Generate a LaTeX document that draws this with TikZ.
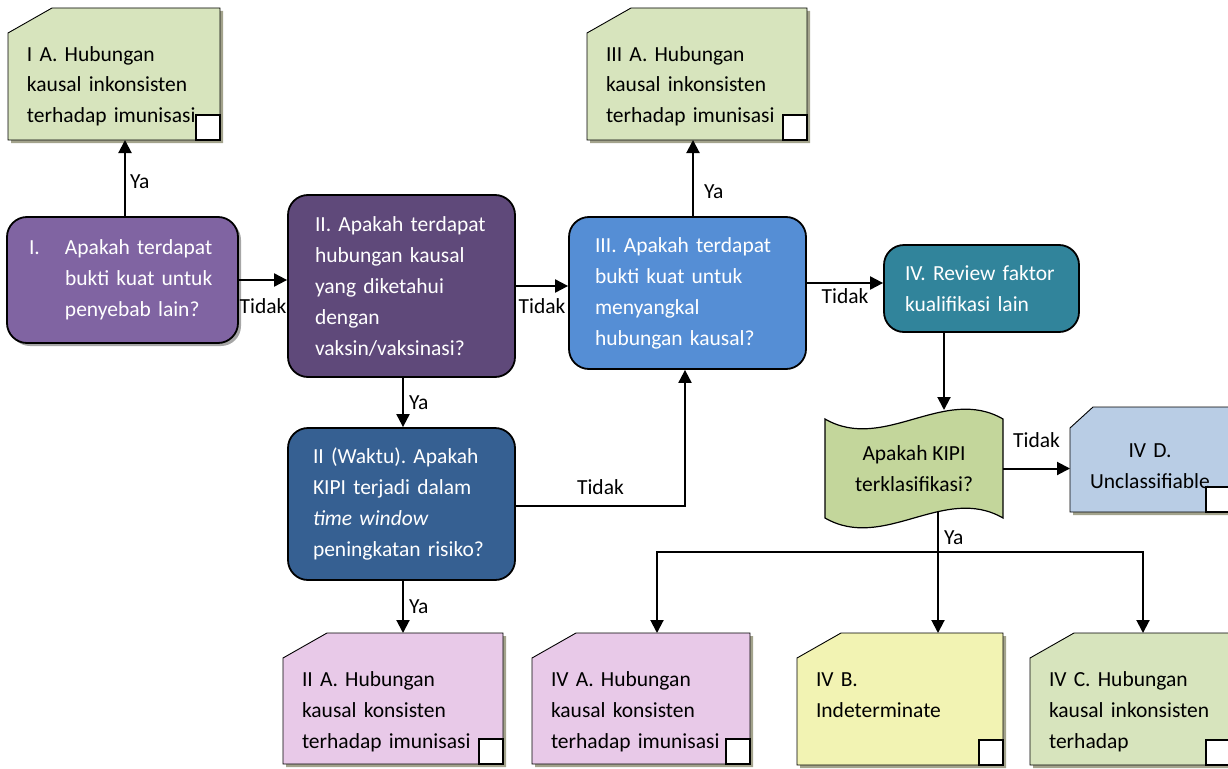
\documentclass[tikz,border=0pt]{standalone}
\usepackage{fontspec}
\setmainfont{Carlito}
\frenchspacing
\usetikzlibrary{arrows.meta,shadows}

\definecolor{cardgreen}{HTML}{D7E4BD}
\definecolor{cardpink}{HTML}{E8C9E8}
\definecolor{cardyellow}{HTML}{F2F3B3}
\definecolor{cardblue}{HTML}{B9CDE5}
\definecolor{cardshade}{HTML}{A3A38C}
\definecolor{qpurple}{HTML}{8064A2}
\definecolor{qplum}{HTML}{5F497A}
\definecolor{qnavy}{HTML}{366092}
\definecolor{qblue}{HTML}{558ED5}
\definecolor{qteal}{HTML}{31849B}
\definecolor{tapegreen}{HTML}{C3D69B}

\begin{document}
\begin{tikzpicture}[x=1pt, y=-1pt,
    txt/.style={font=\fontsize{21.5}{31}\selectfont},
    question/.style={txt, draw=black, line width=1.8pt, rounded corners=20pt, text=white, align=left, inner ysep=0pt},
    cardline/.style={draw=black, line width=0.9pt},
    cardtext/.style={txt, align=left, inner xsep=19pt, inner ysep=0pt, outer sep=0pt, anchor=north west, text height=53pt},
    tick/.style={draw=black, line width=2.2pt, fill=white},
    conn/.style={draw, line width=2pt, -{Triangle[length=13pt,width=13pt]}},
    lbl/.style={txt, inner sep=2pt}]
\useasboundingbox (0,0) rectangle (1228,768);

% outcome cards
\foreach \nm/\xa/\ya/\xb/\yb/\col/\txt [evaluate=\xb as \tw using \xb-\xa-38, evaluate=\yb as \td using \yb-\ya-53] in {
    ia/8/8/220/140/cardgreen/{I A. Hubungan\\kausal inkonsisten\\terhadap imunisasi},
    iiia/587/8/807/140/cardgreen/{III A. Hubungan\\kausal inkonsisten\\terhadap imunisasi},
    iia/283/633/503/764/cardpink/{II A. Hubungan\\kausal konsisten\\terhadap imunisasi},
    iva/532/633/750/764/cardpink/{IV A. Hubungan\\kausal konsisten\\terhadap imunisasi},
    ivb/797/633/1003/765/cardyellow/{IV B.\\Indeterminate},
    ivc/1030/633/1230/765/cardgreen/{IV C. Hubungan\\kausal inkonsisten\\terhadap}}{
  \fill[cardshade] (\xa+3,\ya+28) -- (\xa+47,\ya+3) -- (\xb+3,\ya+3) -- (\xb+3,\yb+3) -- (\xa+3,\yb+3) -- cycle;
  \draw[cardline, fill=\col] (\xa,\ya+25) -- (\xa+44,\ya) -- (\xb,\ya) -- (\xb,\yb) -- (\xa,\yb) -- cycle;
  \node[cardtext, text width=\tw pt, text depth=\td pt] (\nm) at (\xa,\ya) {\txt};
  \draw[tick] (\xb-24,\yb-25) rectangle (\xb,\yb);
}

% unclassifiable card
\fill[cardshade] (1073,431) -- (1096,410) -- (1233,410) -- (1233,515) -- (1073,515) -- cycle;
\draw[cardline, fill=cardblue] (1070,428) -- (1093,407) -- (1230,407) -- (1230,512) -- (1070,512) -- cycle;
\node[cardtext, align=center, inner xsep=10pt, text width=140pt, text height=50pt, text depth=55pt] (ivd) at (1070,407) {IV D.\\Unclassifiable};
\draw[tick] (1206,487) rectangle (1230,512);

% questions
\node[question, fill=qpurple, text width=187pt, inner xsep=22pt, minimum height=126pt,
      drop shadow={shadow xshift=3pt, shadow yshift=-3pt, fill=gray!70, opacity=1}] (q1) at (122.5,280)
    {\makebox[36pt][l]{I.}Apakah terdapat\\\hspace*{36pt}bukti kuat untuk\\\hspace*{36pt}penyebab lain?};
\node[question, fill=qplum, text width=173pt, inner xsep=27pt, minimum height=182pt] (q2) at (401.5,286)
    {II. Apakah terdapat\\hubungan kausal\\yang diketahui\\dengan\\vaksin/vaksinasi?};
\node[question, fill=qnavy, text width=177pt, inner xsep=25pt, minimum height=152pt] (q2w) at (401.5,504)
    {II (Waktu). Apakah\\KIPI terjadi dalam\\\textit{time window}\\peningkatan risiko?};
\node[question, fill=qblue, text width=185pt, inner xsep=26pt, minimum height=152pt] (q3) at (687.5,293)
    {III. Apakah terdapat\\bukti kuat untuk\\menyangkal\\hubungan kausal?};
\node[question, fill=qteal, text width=153pt, inner xsep=21pt, minimum height=87pt] (q4) at (981.5,288.5)
    {IV. Review faktor\\kualifikasi lain};

% tape
\draw[cardline, line width=1.2pt, fill=tapegreen] (825,419) .. controls (884,453) and (944,385) .. (1003,419)
    -- (1003,518) .. controls (944,484) and (884,552) .. (825,518) -- cycle;
\node[txt, align=center, minimum width=178pt, minimum height=99pt, inner sep=0pt] (q5) at (914,468.5)
    {Apakah KIPI\\terklasifikasi?};
\coordinate (q5n) at (944,410);
\coordinate (q5s) at (938,511);
\coordinate (fork) at (938,552);

% connectors
\draw[conn] ([xshift=2.5pt]q1.north) -- ([xshift=2.5pt]q1.north |- ia.south) node[lbl, pos=0.45, right=2pt] {Ya};
\draw[conn] (q1.east) -- (q1.east -| q2.west) node[lbl, midway, below=16pt] {Tidak};
\draw[conn] (q2.east) -- (q2.east -| q3.west) node[lbl, midway, below=10pt] {Tidak};
\draw[conn] ([xshift=5.5pt]q3.north) -- ([xshift=5.5pt]q3.north |- iiia.south) node[lbl, pos=0.32, right=8pt] {Ya};
\draw[conn] ([yshift=5.5pt]q4.west -| q3.east) -- ([yshift=5.5pt]q4.west) node[lbl, midway, below=3pt] {Tidak};
\draw[conn] ([xshift=1.5pt]q2.south) -- ([xshift=1.5pt]q2.south |- q2w.north) node[lbl, midway, right=3pt] {Ya};
\draw[conn] ([xshift=1.5pt]q2w.south) -- ([xshift=1.5pt]q2w.south |- iia.north) node[lbl, midway, right=3pt] {Ya};
\draw[conn] ([yshift=-2pt]q2w.east) -| ([xshift=-2.5pt]q3.south) node[lbl, pos=0.25, above=8pt] {Tidak};
\draw[conn] (q4.south -| q5n) -- (q5n);
\draw[conn] (q5.east) -- (q5.east -| ivd.west) node[lbl, midway, above=18pt] {Tidak};
\draw[line width=2pt] (q5s) -- (fork) node[lbl, pos=0.65, right=3pt] {Ya};
\draw[conn] (fork) -- (fork |- ivb.north);
\draw[conn] (fork) -| ([xshift=16pt]iva.north);
\draw[conn] (fork) -| ([xshift=13pt]ivc.north);
\end{tikzpicture}
\end{document}
